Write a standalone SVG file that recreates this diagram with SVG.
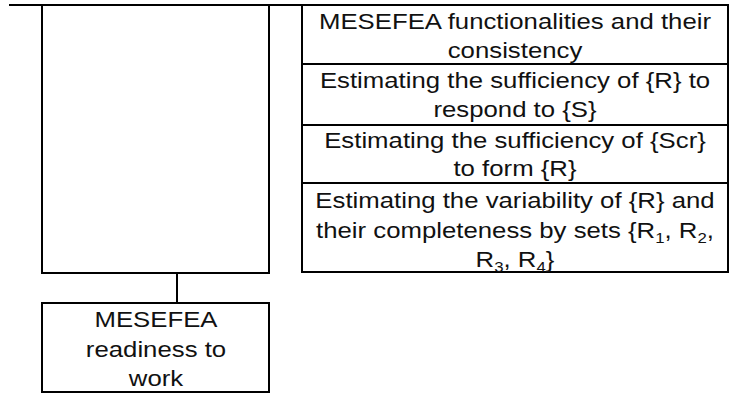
<svg xmlns="http://www.w3.org/2000/svg" width="729" height="394" viewBox="0 0 729 394">
<style>
.ln{stroke:#000;stroke-width:2;fill:none}
.box{stroke:#000;stroke-width:2;fill:#fff}
.t{font-family:"Liberation Sans",Arial,sans-serif;font-size:23px;fill:#111;text-anchor:middle}
.sub{font-size:15px}
</style>
<rect width="729" height="394" fill="#fff"/>
<g id="connectors">
<line class="ln" x1="9" y1="5" x2="302" y2="5"/>
<line class="ln" x1="177" y1="273" x2="177" y2="303"/>
</g>
<g id="frame">
<rect class="box" x="42" y="5" width="227" height="268"/>
</g>
<g id="table">
<rect class="box" x="302" y="5" width="426" height="267"/>
<line class="ln" x1="302" y1="64" x2="728" y2="64"/>
<line class="ln" x1="302" y1="125" x2="728" y2="125"/>
<line class="ln" x1="302" y1="183" x2="728" y2="183"/>
<g id="row1" transform="translate(515 0) scale(1.12 1)">
<text class="t" x="0" y="29">MESEFEA functionalities and their</text>
<text class="t" x="0" y="58">consistency</text>
</g>
<g id="row2" transform="translate(515 0) scale(1.12 1)">
<text class="t" x="0" y="88">Estimating the sufficiency of {R} to</text>
<text class="t" x="0" y="117">respond to {S}</text>
</g>
<g id="row3" transform="translate(515 0) scale(1.12 1)">
<text class="t" x="0" y="148">Estimating the sufficiency of {Scr}</text>
<text class="t" x="0" y="176">to form {R}</text>
</g>
<g id="row4" transform="translate(515 0) scale(1.12 1)">
<text class="t" x="0" y="208">Estimating the variability of {R} and</text>
<text class="t" x="0" y="238">their completeness by sets {R<tspan class="sub" dy="5">1</tspan><tspan dy="-5">, R</tspan><tspan class="sub" dy="5">2</tspan><tspan dy="-5">,</tspan></text>
<text class="t" x="0" y="267">R<tspan class="sub" dy="5">3</tspan><tspan dy="-5">, R</tspan><tspan class="sub" dy="5">4</tspan><tspan dy="-5">}</tspan></text>
</g>
</g>
<g id="readiness">
<rect class="box" x="42" y="303" width="227" height="89"/>
<g transform="translate(156 0) scale(1.12 1)">
<text class="t" x="0" y="327">MESEFEA</text>
<text class="t" x="0" y="357">readiness to</text>
<text class="t" x="0" y="386">work</text>
</g>
</g>
</svg>
